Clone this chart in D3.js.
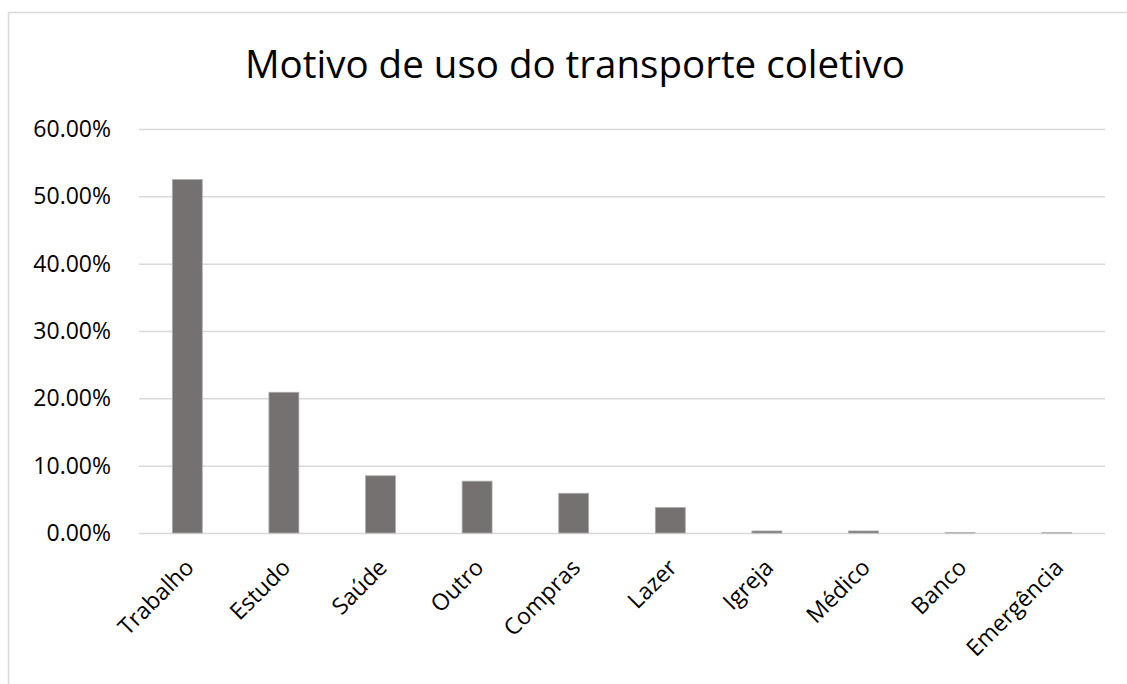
<!DOCTYPE html>
<html>
<head>
<meta charset="utf-8">
<script src="https://cdn.jsdelivr.net/npm/d3@7"></script>
<style>
  html, body { margin: 0; padding: 0; background: #fff; }
  svg { display: block; }
  text { font-family: "Open Sans", "Noto Sans", sans-serif; fill: #000; }
</style>
</head>
<body>
<svg id="chart" width="1127" height="684"></svg>
<script>
// Motivo de uso do transporte coletivo — share of respondents per trip purpose
const categories = ["Trabalho", "Estudo", "Saúde", "Outro", "Compras", "Lazer", "Igreja", "Médico", "Banco", "Emergência"];
const shares = [0.525, 0.209, 0.085, 0.077, 0.059, 0.038, 0.003, 0.003, 0.0005, 0.0005];
const yTicks = [0, 0.1, 0.2, 0.3, 0.4, 0.5, 0.6];
const title = "Motivo de uso do transporte coletivo";

const svg = d3.select("#chart");
const W = 1127, H = 684;
const FONT = "'Open Sans', 'Noto Sans', sans-serif";

// chart frame
svg.append("rect")
  .attr("x", 8.5).attr("y", 12.5)
  .attr("width", W + 20).attr("height", H + 20)
  .attr("fill", "#fff").attr("stroke", "#d9d9d9").attr("stroke-width", 1.5);

const plot = { left: 139, right: 1105, top: 129, bottom: 533 };

const x = d3.scaleBand()
  .domain(categories)
  .range([plot.left, plot.right])
  .paddingInner(0.69)
  .paddingOuter(0.345);

const y = d3.scaleLinear()
  .domain([0, 0.6])
  .range([plot.bottom, plot.top]);

// gridlines + y labels
const yAxis = d3.axisLeft(y)
  .tickValues(yTicks)
  .tickSize(-(plot.right - plot.left))
  .tickPadding(28)
  .tickFormat(d3.format(".2%"));

const gy = svg.append("g")
  .attr("transform", `translate(${plot.left},0)`)
  .call(yAxis);
gy.select(".domain").remove();
gy.selectAll(".tick line").attr("stroke", "#d9d9d9").attr("stroke-width", 1.5);
gy.selectAll(".tick text")
  .attr("font-size", 23)
  .attr("fill", "#000")
  .style("font-family", FONT);

// bars
svg.append("g").selectAll("rect")
  .data(categories.map((c, i) => ({ c, v: shares[i] })))
  .join("rect")
  .attr("x", d => x(d.c))
  .attr("width", x.bandwidth())
  .attr("y", d => y(d.v))
  .attr("height", d => y(0) - y(d.v))
  .attr("fill", "#767171")
  .attr("stroke", "#b0adad")
  .attr("stroke-width", 0.8);

// rotated category labels
const xAxis = d3.axisBottom(x).tickSize(0).tickPadding(0);
const gx = svg.append("g")
  .attr("transform", `translate(0,${plot.bottom})`)
  .call(xAxis);
gx.select(".domain").remove();
gx.selectAll(".tick text")
  .attr("font-size", 23)
  .attr("fill", "#000")
  .style("font-family", FONT)
  .attr("text-anchor", "end")
  .attr("dy", 0)
  .attr("transform", "translate(8,36) rotate(-45)");

// title
svg.append("text")
  .attr("x", 575).attr("y", 78)
  .attr("text-anchor", "middle")
  .attr("font-size", 38.5)
  .text(title);
</script>
</body>
</html>
